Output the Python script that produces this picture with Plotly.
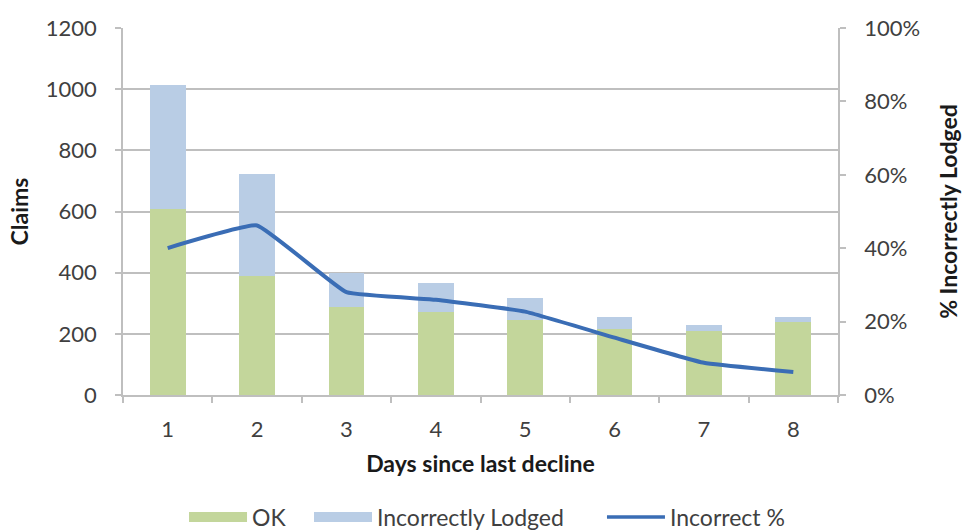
import plotly.graph_objects as go

# Claims by days since the last decline
days = ["1", "2", "3", "4", "5", "6", "7", "8"]
ok_claims = [608, 389, 288, 271, 245, 216, 208, 240]
incorrect_claims = [406, 334, 112, 95, 72, 40, 20, 16]

incorrect_pct = [i / (o + i) for o, i in zip(ok_claims, incorrect_claims)]

GREEN = "#c3d69b"
BLUE = "#b9cde5"
LINE = "#3a6db5"
GRID = "#bfbfbf"
FONT = "Lato"
TITLE_FONT = dict(size=23, color="#1a1a1a")

fig = go.Figure()
fig.add_trace(go.Bar(x=days, y=ok_claims, name="OK", marker_color=GREEN,
                     marker_line_width=0, showlegend=False))
fig.add_trace(go.Bar(x=days, y=incorrect_claims, name="Incorrectly Lodged",
                     marker_color=BLUE, marker_line_width=0, showlegend=False))
fig.add_trace(go.Scatter(x=days, y=incorrect_pct, name="Incorrect %", yaxis="y2",
                         mode="lines", line=dict(color=LINE, width=4, shape="spline",
                                                 smoothing=0.3),
                         showlegend=False))

# legend entries drawn as thick line swatches, one legend box per entry
entries = [("OK", GREEN, 13, "legend", 0.1907),
           ("Incorrectly Lodged", BLUE, 13, "legend2", 0.3202),
           ("Incorrect %", LINE, 3.5, "legend3", 0.6238)]
legend_boxes = {}
for name, color, width, leg, xpos in entries:
    fig.add_trace(go.Scatter(x=[None], y=[None], mode="lines", name=name, legend=leg,
                             line=dict(color=color, width=width), yaxis="y2"))
    legend_boxes[leg] = dict(orientation="h", x=xpos, xanchor="left", xref="container",
                             y=0.028, yanchor="middle", yref="container", itemwidth=58,
                             font=dict(size=23, color="#404040"))

axis_common = dict(showline=True, linecolor=GRID, linewidth=1.5, ticks="outside",
                   ticklen=6, tickcolor=GRID, tickwidth=1.5, automargin=False)

fig.update_layout(
    width=965, height=532,
    margin=dict(l=123, r=127, t=28, b=137),
    plot_bgcolor="white", paper_bgcolor="white",
    barmode="stack", bargap=0.6,
    font=dict(family=FONT, size=22, color="#404040"),
    xaxis=dict(type="category", range=[-0.5, 7.5], tickson="boundaries",
               ticklabelstandoff=14, **axis_common,
               title=dict(text="<b>Days since last decline</b>", standoff=15,
                          font=TITLE_FONT)),
    yaxis=dict(range=[0, 1200], dtick=200, showgrid=True, gridcolor=GRID, gridwidth=1.5,
               ticklabelstandoff=14, zeroline=False, **axis_common,
               title=dict(text="<b>Claims</b>", standoff=11, font=TITLE_FONT)),
    yaxis2=dict(range=[0, 1], dtick=0.2, tickformat=".0%", overlaying="y", side="right",
                showgrid=False, ticklabelstandoff=14, zeroline=False, **axis_common,
                title=dict(text="<b>% Incorrectly Lodged</b>", standoff=22,
                           font=TITLE_FONT)),
    legend=legend_boxes["legend"],
    legend2=legend_boxes["legend2"],
    legend3=legend_boxes["legend3"],
)

fig.write_html("out.html")
